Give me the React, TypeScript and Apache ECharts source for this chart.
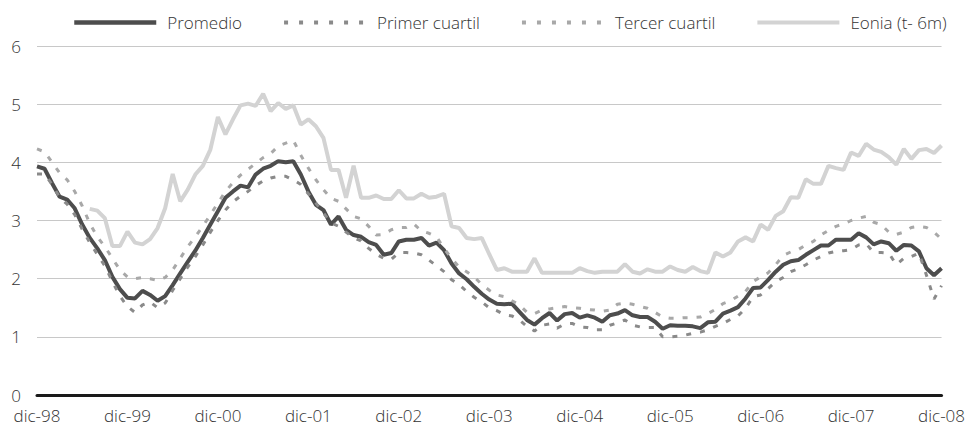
import React, { useEffect, useRef } from "react";
import * as echarts from "echarts";

const MONTHS = ["ene", "feb", "mar", "abr", "may", "jun", "jul", "ago", "sep", "oct", "nov", "dic"];
const START_YEAR = 1998; // dic-98 is the first point
const N_POINTS = 121;

const SERIES_NAMES = ["Promedio", "Primer cuartil", "Tercer cuartil", "Eonia (t- 6m)"];

const promedio = [
  3.93, 3.89, 3.64, 3.41, 3.36, 3.21, 2.93, 2.70, 2.52, 2.32, 2.03, 1.82,
  1.67, 1.66, 1.79, 1.72, 1.62, 1.70, 1.89, 2.09, 2.29, 2.48, 2.70, 2.93,
  3.16, 3.39, 3.50, 3.60, 3.57, 3.79, 3.89, 3.94, 4.02, 4.00, 4.02, 3.79,
  3.50, 3.27, 3.18, 2.93, 3.07, 2.84, 2.75, 2.72, 2.63, 2.58, 2.41, 2.44,
  2.64, 2.67, 2.67, 2.70, 2.57, 2.62, 2.49, 2.26, 2.09, 1.99, 1.86, 1.74,
  1.64, 1.57, 1.56, 1.57, 1.43, 1.29, 1.21, 1.32, 1.41, 1.28, 1.39, 1.41,
  1.33, 1.37, 1.33, 1.26, 1.37, 1.40, 1.46, 1.37, 1.34, 1.34, 1.26, 1.14,
  1.20, 1.19, 1.19, 1.18, 1.15, 1.25, 1.26, 1.40, 1.45, 1.51, 1.66, 1.84,
  1.85, 1.98, 2.12, 2.24, 2.30, 2.32, 2.41, 2.49, 2.57, 2.57, 2.67, 2.67,
  2.67, 2.78, 2.71, 2.59, 2.64, 2.61, 2.48, 2.58, 2.57, 2.47, 2.18, 2.06,
  2.18,
];

const primerCuartil = [
  3.80, 3.80, 3.62, 3.40, 3.28, 3.10, 2.85, 2.62, 2.42, 2.22, 1.95, 1.70,
  1.52, 1.42, 1.55, 1.60, 1.50, 1.58, 1.80, 2.00, 2.20, 2.38, 2.58, 2.80,
  3.00, 3.18, 3.32, 3.42, 3.50, 3.60, 3.68, 3.73, 3.76, 3.76, 3.70, 3.62,
  3.46, 3.30, 3.13, 2.96, 2.90, 2.80, 2.70, 2.65, 2.52, 2.42, 2.35, 2.33,
  2.45, 2.45, 2.44, 2.41, 2.32, 2.22, 2.12, 1.98, 1.90, 1.78, 1.68, 1.60,
  1.50, 1.45, 1.38, 1.36, 1.29, 1.18, 1.10, 1.20, 1.22, 1.15, 1.22, 1.23,
  1.17, 1.16, 1.12, 1.12, 1.20, 1.24, 1.29, 1.20, 1.17, 1.16, 1.16, 1.00,
  1.00, 1.01, 1.03, 1.06, 1.08, 1.12, 1.18, 1.23, 1.30, 1.36, 1.49, 1.69,
  1.72, 1.83, 1.95, 2.02, 2.12, 2.17, 2.24, 2.32, 2.38, 2.44, 2.47, 2.48,
  2.50, 2.58, 2.60, 2.45, 2.45, 2.44, 2.24, 2.35, 2.38, 2.44, 2.06, 1.65,
  1.88,
];

const tercerCuartil = [
  4.23, 4.18, 4.00, 3.82, 3.70, 3.50, 3.25, 2.95, 2.72, 2.55, 2.35, 2.15,
  2.03, 2.00, 2.02, 2.00, 1.97, 2.02, 2.15, 2.35, 2.55, 2.72, 2.90, 3.10,
  3.30, 3.50, 3.65, 3.78, 3.88, 3.98, 4.08, 4.15, 4.28, 4.33, 4.38, 4.12,
  3.90, 3.70, 3.53, 3.38, 3.33, 3.20, 3.07, 3.03, 2.90, 2.75, 2.76, 2.84,
  2.88, 2.88, 2.94, 2.82, 2.78, 2.72, 2.52, 2.35, 2.20, 2.12, 2.03, 1.90,
  1.80, 1.72, 1.69, 1.62, 1.55, 1.42, 1.40, 1.46, 1.48, 1.50, 1.52, 1.50,
  1.49, 1.47, 1.46, 1.44, 1.46, 1.56, 1.58, 1.56, 1.52, 1.49, 1.42, 1.34,
  1.32, 1.32, 1.33, 1.33, 1.34, 1.40, 1.47, 1.57, 1.62, 1.70, 1.78, 1.95,
  2.03, 2.10, 2.24, 2.40, 2.46, 2.50, 2.58, 2.64, 2.75, 2.83, 2.90, 2.94,
  3.00, 3.04, 3.07, 2.97, 2.93, 2.80, 2.76, 2.80, 2.88, 2.90, 2.88, 2.80,
  2.68,
];

const eonia = [
  null, null, null, null, null, null, null, 3.20, 3.17, 3.04, 2.56, 2.56,
  2.81, 2.62, 2.59, 2.68, 2.87, 3.21, 3.80, 3.33, 3.53, 3.79, 3.94, 4.22,
  4.78, 4.48, 4.74, 4.98, 5.01, 4.97, 5.18, 4.88, 5.02, 4.92, 4.98, 4.65,
  4.74, 4.62, 4.42, 3.87, 3.87, 3.39, 3.94, 3.39, 3.39, 3.43, 3.37, 3.37,
  3.52, 3.38, 3.38, 3.46, 3.39, 3.41, 3.46, 2.90, 2.87, 2.70, 2.68, 2.70,
  2.42, 2.15, 2.18, 2.12, 2.12, 2.12, 2.35, 2.10, 2.10, 2.10, 2.10, 2.10,
  2.18, 2.13, 2.10, 2.12, 2.12, 2.12, 2.25, 2.12, 2.09, 2.16, 2.12, 2.12,
  2.21, 2.15, 2.12, 2.20, 2.13, 2.10, 2.45, 2.38, 2.45, 2.64, 2.71, 2.64,
  2.93, 2.84, 3.08, 3.16, 3.40, 3.39, 3.71, 3.63, 3.63, 3.94, 3.90, 3.87,
  4.17, 4.11, 4.32, 4.22, 4.18, 4.09, 3.96, 4.23, 4.06, 4.21, 4.23, 4.16,
  4.29,
];

const categories: string[] = [];
for (let i = 0; i < N_POINTS; i++) {
  const m = (11 + i) % 12;
  const y = START_YEAR + Math.floor((11 + i) / 12);
  categories.push(MONTHS[m] + "-" + String(y % 100).padStart(2, "0"));
}

const FONT = "'Open Sans', 'Noto Sans', sans-serif";
const TEXT_COLOR = "#333333";
const COL_PROM = "#4d4d4d";
const COL_Q1 = "#8a8a8a";
const COL_Q3 = "#a8a8a8";
const COL_EON = "#d3d3d3";

const hiddenSymbol = { color: "transparent", borderWidth: 0, opacity: 0 };

export default function App() {
  const ref = useRef<HTMLDivElement>(null);
  useEffect(() => {
    if (!ref.current) return;
    const chart = echarts.init(ref.current, null, { renderer: "svg" });
    const textStyle = { fontFamily: FONT, fontSize: 17, fontWeight: 300, color: TEXT_COLOR };
    chart.setOption({
      animation: false,
      textStyle,
      legend: {
        left: 72,
        top: 14,
        padding: 0,
        itemWidth: 82,
        itemHeight: 14,
        itemGap: 40,
        itemStyle: hiddenSymbol,
        textStyle: { ...textStyle, padding: [0, 0, 0, 6] },
        data: [
          { name: SERIES_NAMES[0], itemStyle: hiddenSymbol, lineStyle: { width: 4.5, color: COL_PROM, type: "solid" } },
          { name: SERIES_NAMES[1], itemStyle: hiddenSymbol, lineStyle: { width: 4, color: COL_Q1, type: [4, 11] } },
          { name: SERIES_NAMES[2], itemStyle: hiddenSymbol, lineStyle: { width: 4, color: COL_Q3, type: [4, 11] } },
          { name: SERIES_NAMES[3], itemStyle: hiddenSymbol, lineStyle: { width: 4, color: COL_EON, type: "solid" } },
        ],
      },
      grid: { left: 37, right: 25, top: 46, bottom: 32 },
      xAxis: {
        type: "category",
        data: categories,
        boundaryGap: false,
        axisLine: { show: true, lineStyle: { color: "#1a1a1a", width: 3 } },
        axisTick: { show: false },
        axisLabel: { interval: 11, margin: 12, ...textStyle },
        splitLine: { show: false },
      },
      yAxis: {
        type: "value",
        min: 0,
        max: 6,
        interval: 1,
        axisLine: { show: false },
        axisTick: { show: false },
        axisLabel: { margin: 16, ...textStyle },
        splitLine: { lineStyle: { color: "#c8c8c8", width: 1 } },
      },
      series: [
        {
          name: SERIES_NAMES[0],
          type: "line",
          data: promedio,
          symbol: "none",
          lineStyle: { color: COL_PROM, width: 4 },
          itemStyle: { color: COL_PROM },
          z: 3,
        },
        {
          name: SERIES_NAMES[1],
          type: "line",
          data: primerCuartil,
          symbol: "none",
          lineStyle: { color: COL_Q1, width: 3, type: [5, 9] },
          itemStyle: { color: COL_Q1 },
          z: 4,
        },
        {
          name: SERIES_NAMES[2],
          type: "line",
          data: tercerCuartil,
          symbol: "none",
          lineStyle: { color: COL_Q3, width: 3, type: [5, 9] },
          itemStyle: { color: COL_Q3 },
          z: 4,
        },
        {
          name: SERIES_NAMES[3],
          type: "line",
          data: eonia,
          symbol: "none",
          connectNulls: false,
          lineStyle: { color: COL_EON, width: 4 },
          itemStyle: { color: COL_EON },
          z: 2,
        },
      ],
    });
    return () => chart.dispose();
  }, []);
  return (
    <div
      ref={ref}
      style={{ position: "fixed", left: 0, top: 0, width: 968, height: 427, background: "#fff" }}
    />
  );
}
